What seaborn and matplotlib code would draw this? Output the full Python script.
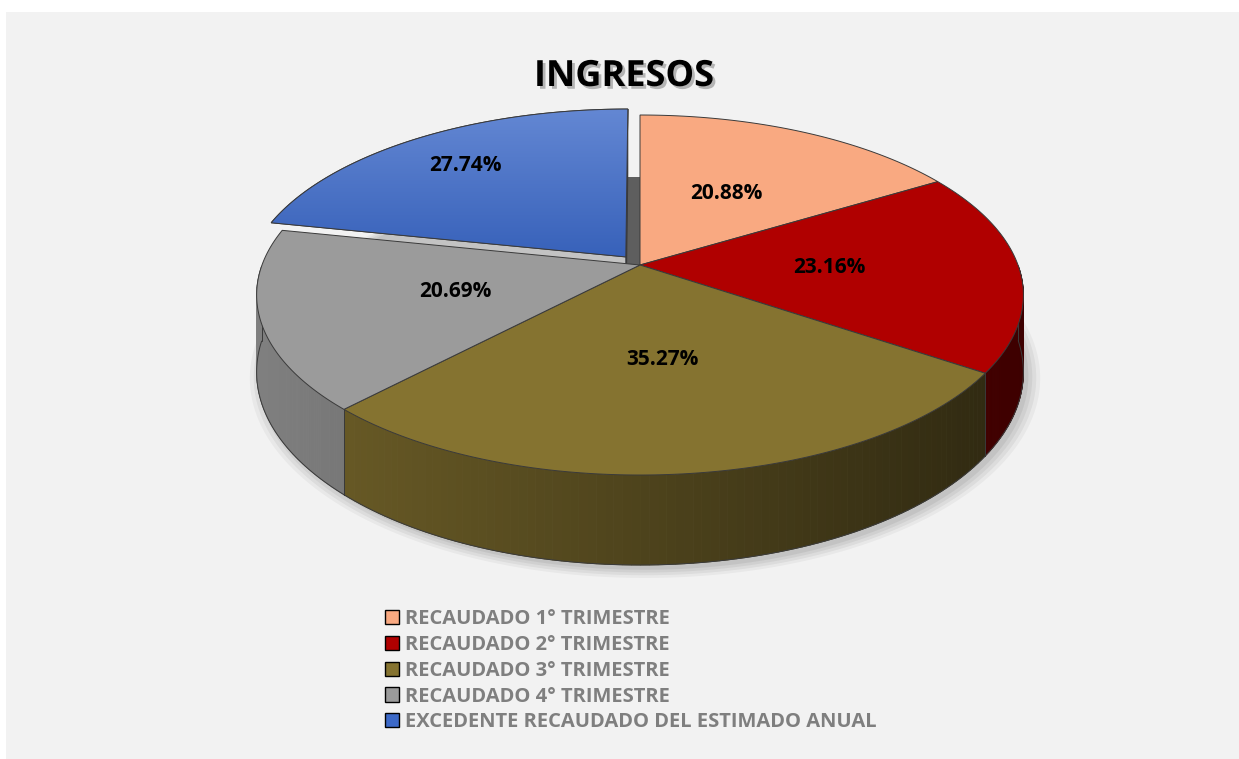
import numpy as np
import matplotlib
matplotlib.use("Agg")
import matplotlib.pyplot as plt
from matplotlib.patches import Polygon, Rectangle, Patch
import matplotlib.patheffects as pe
import seaborn as sns

# ---------------- data ----------------
categories = ["RECAUDADO 1° TRIMESTRE", "RECAUDADO 2° TRIMESTRE",
              "RECAUDADO 3° TRIMESTRE", "RECAUDADO 4° TRIMESTRE",
              "EXCEDENTE RECAUDADO DEL ESTIMADO ANUAL"]
values = [20.88, 23.16, 35.27, 20.69, 27.74]
value_labels = ["20.88%", "23.16%", "35.27%", "20.69%", "27.74%"]
exploded = [False, False, False, False, True]
title = "INGRESOS"

colors = sns.color_palette(["#F9A981", "#B00000", "#857330", "#9B9B9B", "#3C69C8"])

sns.set_theme(style="white")
plt.rcParams['font.family'] = ['Open Sans', 'DejaVu Sans']

W, H = 1239, 759
fig = plt.figure(figsize=(W / 100, H / 100), dpi=100)
fig.patch.set_facecolor("white")
ax = fig.add_axes([0, 0, 1, 1])
ax.set_xlim(0, W)
ax.set_ylim(H, 0)
ax.axis("off")
ax.add_patch(Rectangle((6, 12), W, H, facecolor="#F2F2F2", edgecolor="none", zorder=0))

# geometry of the perspective 3D pie (pixel layout)
cx, cy = 640, 265
rx, ry = 378, 175
persp = 0.1667
depth0 = 75
explode_amt = 0.06


def proj(X, Z, drop=0.0):
    d = 1 + persp * Z
    return cx + rx * X / d, cy - ry * Z / d + drop / d


def pt(theta_deg, r=1.0, off=(0.0, 0.0), drop=0.0):
    t = np.radians(theta_deg)
    X = r * np.cos(t) + off[0]
    Z = r * np.sin(t) + off[1]
    return proj(X, Z, drop)


total = sum(values)
spans = [v / total * 360 for v in values]
starts = []
a = 90.0
for s in spans:
    starts.append(a)
    a -= s  # clockwise

edge_kw = dict(edgecolor="#3a3a3a", linewidth=0.7)

# soft shadow under the pie
th_all = np.linspace(0, 360, 240)
for k, alpha in enumerate([0.04, 0.05, 0.05, 0.06]):
    grow = 1.03 - 0.01 * k
    xs, ys = pt(th_all, grow, drop=depth0 + 4)
    ax.add_patch(Polygon(np.column_stack([xs + 5, ys]), closed=True,
                         facecolor="black", alpha=alpha, edgecolor="none", zorder=1))


def shade(base, x):
    f = 0.82 - 0.47 * (x - (cx - rx)) / (2 * rx)
    return tuple(np.clip(np.array(base) * f, 0, 1))


def draw_slice(i, z):
    st, sp = starts[i], spans[i]
    en = st - sp
    mid = st - sp / 2
    off = (0.0, 0.0)
    if exploded[i]:
        mt = np.radians(mid)
        off = (explode_amt * np.cos(mt), explode_amt * np.sin(mt))
    th = np.linspace(st, en, max(int(sp * 2), 10))
    # radial cut face on the lower edge of an exploded slice
    if exploded[i]:
        x0, y0 = pt(en, 0, off)
        x1, y1 = pt(en, 1, off)
        x0b, y0b = pt(en, 0, off, depth0)
        x1b, y1b = pt(en, 1, off, depth0)
        face = [(x0, y0), (x1, y1), (x1b, y1b), (x0b, y0b)]
        ax.add_patch(Polygon(face, closed=True, facecolor="#1C3461", zorder=z, **edge_kw))
    # outer side wall (front half only), shaded strips
    thn = np.mod(th, 360)
    front = thn > 180
    if front.any():
        tf = th[front]
        tt = np.linspace(tf[0], tf[-1], 90)
        for a0, a1 in zip(tt[:-1], tt[1:]):
            xa, ya = pt(a0, 1, off)
            xb, yb = pt(a1, 1, off)
            xa2, ya2 = pt(a0, 1, off, depth0)
            xb2, yb2 = pt(a1, 1, off, depth0)
            c = shade(colors[i], (xa + xb) / 2)
            ax.add_patch(Polygon([(xa, ya), (xb, yb), (xb2, yb2), (xa2, ya2)], closed=True,
                                 facecolor=c, edgecolor=c, linewidth=0.6, zorder=z))
        xs, ys = pt(tt, 1, off, depth0)
        ax.plot(xs, ys, color="#3a3a3a", lw=0.7, zorder=z + 0.1)
        for tv in (tt[0], tt[-1]):
            xe, ye = pt(tv, 1, off)
            xe2, ye2 = pt(tv, 1, off, depth0)
            ax.plot([xe, xe2], [ye, ye2], color="#3a3a3a", lw=0.7, zorder=z + 0.1)
    # top face
    xs, ys = pt(th, 1, off)
    x0, y0 = pt(0, 0, off)
    poly = np.column_stack([np.r_[x0, xs], np.r_[y0, ys]])
    top = Polygon(poly, closed=True, facecolor=colors[i], zorder=z + 0.2, **edge_kw)
    ax.add_patch(top)
    if exploded[i]:
        # vertical light-to-dark gradient on the exploded slice
        base = np.array(colors[i])
        light = base * 0.8 + 0.2
        dark = base * 0.93
        tgrid = np.linspace(0, 1, 64)[:, None, None]
        img = light[None, None, :] * (1 - tgrid) + dark[None, None, :] * tgrid
        img = np.repeat(np.clip(img, 0, 1), 2, axis=1)
        im = ax.imshow(img, extent=(poly[:, 0].min(), poly[:, 0].max(),
                                    poly[:, 1].max(), poly[:, 1].min()),
                       aspect="auto", zorder=z + 0.25, interpolation="bilinear")
        im.set_clip_path(top)
        ax.add_patch(Polygon(poly, closed=True, facecolor="none", zorder=z + 0.3, **edge_kw))
    # label
    r_lab = 0.75 if exploded[i] else 0.5
    lx, ly = pt(mid, r_lab, off)
    ax.text(lx, ly, value_labels[i], ha="center", va="center", fontsize=15,
            fontweight="bold", color="black", zorder=10)


# dark shadow visible in the gap left by the exploded slice
gx0, gy0 = pt(90, 0.0)
gx1, gy1 = pt(90, 0.55)
ax.add_patch(Polygon([(gx0 - 14, gy0), (gx0, gy0), (gx1, gy1), (gx1 - 14, gy1)], closed=True,
                     facecolor="#5E5E5E", edgecolor="none", zorder=1.5))

order = [i for i in range(len(values)) if exploded[i]] + [i for i in range(len(values)) if not exploded[i]]
for i in order:
    draw_slice(i, 2)

# title
ax.text(624, 77, title, ha="center", va="center", fontsize=26, fontweight="bold",
        color="black", zorder=10,
        path_effects=[pe.withSimplePatchShadow(offset=(2, -2), shadow_rgbFace="#777777", alpha=0.5)])

# legend
handles = [Patch(facecolor=colors[i], edgecolor="black", linewidth=1.0, label=categories[i])
           for i in range(len(categories))]
leg = ax.legend(handles=handles, loc="upper left", bbox_to_anchor=(377 / W, 1 - 601 / H),
                bbox_transform=fig.transFigure, frameon=False, fontsize=14.5,
                handlelength=0.7, handleheight=0.7, handletextpad=0.3,
                labelspacing=0.29, borderaxespad=0)
for t in leg.get_texts():
    t.set_color("#7F7F7F")
    t.set_fontweight("bold")

fig.savefig("out.png", dpi=100, facecolor=fig.get_facecolor())
